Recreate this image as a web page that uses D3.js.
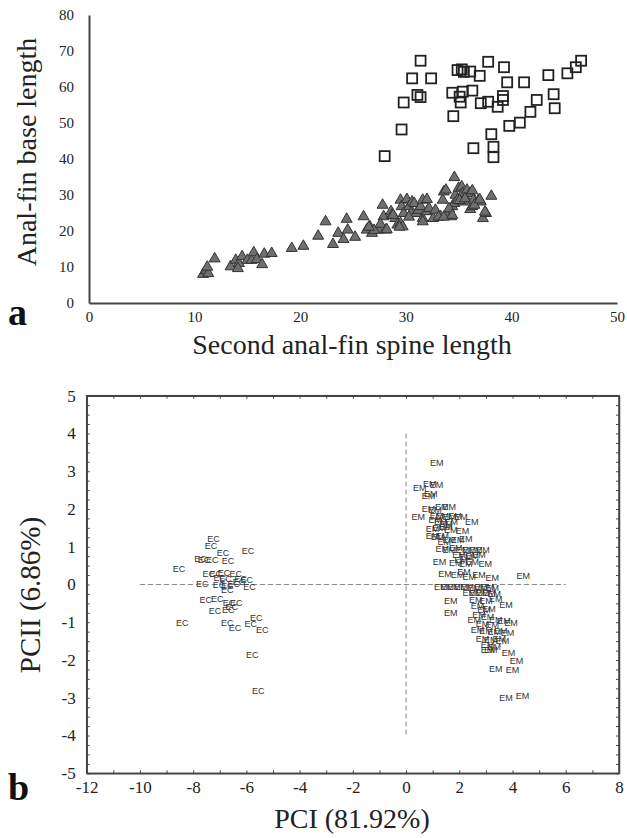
<!DOCTYPE html>
<html><head><meta charset="utf-8">
<script src="https://cdn.jsdelivr.net/npm/d3@7/dist/d3.min.js"></script>
<style>
html,body{margin:0;padding:0;background:#fff;}
svg{display:block;}
</style></head>
<body>
<svg id="chart" width="627" height="838"></svg>
<script>
// ---------- Panel a data ----------
const topXTicks = [0,10,20,30,40,50];
const topYTicks = [0,10,20,30,40,50,60,70,80];
// squares (Second anal-fin spine length, Anal-fin base length)
const squaresX = [28.0,29.6,29.8,30.6,31.4,31.1,31.4,32.4,34.5,34.4,34.9,35.3,35.5,35.1,35.2,35.4,36.1,36.3,37.0,37.1,37.8,37.8,38.1,36.4,38.3,38.3,38.7,39.2,39.2,39.3,39.6,39.8,40.8,41.2,41.8,42.4,43.5,44.0,44.1,45.3,46.1,46.6];
const squaresY = [40.8,48.2,55.7,62.4,67.3,57.8,57.2,62.4,51.9,58.4,64.7,64.9,64.2,57.3,55.7,58.7,64.3,59.0,63.1,55.5,67.0,55.9,46.9,43.0,43.4,40.5,54.5,57.5,56.4,65.5,61.3,49.2,50.1,61.3,53.1,56.4,63.3,58.0,54.1,63.8,65.5,67.3];
// triangles
const trianglesX = [10.8,11.1,11.3,11.2,11.9,13.4,13.9,14.2,14.1,14.5,15.0,15.4,15.6,15.9,16.4,16.6,17.3,19.2,20.3,21.7,22.4,23.1,23.6,24.1,24.4,24.5,25.2,
  26.0,26.3,26.6,26.8,27.4,27.8,27.9,28.1,28.6,28.7,29.0,29.2,29.5,29.7,29.5,29.6,29.8,30.1,30.3,30.5,30.6,30.8,31.0,31.2,31.4,31.6,31.6,32.0,31.6,32.0,32.2,32.6,32.8,33.3,33.5,33.6,33.8,33.9,34.3,34.4,34.6,34.6,34.7,35.0,35.3,35.4,34.9,35.4,35.7,35.8,36.1,36.3,36.1,36.3,36.4,36.9,37.1,37.3,37.6,38.1,
  27.0,27.6,28.2,29.4,30.3,33.1,33.6,34.1,34.4,35.1,35.6,36.5,37.0,37.5,26.5,28.8];
const trianglesY = [8.0,9.0,8.2,10.0,12.3,10.1,11.9,11.0,9.6,12.9,11.9,11.9,14.0,12.1,10.7,13.6,13.8,15.2,15.8,18.6,22.6,16.3,19.4,17.7,23.3,20.3,18.3,
  24.0,20.3,21.2,19.4,20.3,27.2,24.0,20.3,25.4,24.4,23.5,21.7,22.1,21.2,28.6,26.8,24.9,28.8,26.8,24.9,28.1,27.7,24.9,25.8,26.8,23.5,28.6,28.8,22.6,25.4,26.3,23.5,25.8,24.0,28.6,30.9,31.4,24.4,24.0,26.8,27.7,34.9,30.0,31.9,32.3,30.5,28.6,28.1,29.1,31.4,30.5,31.2,26.0,26.8,28.6,28.6,28.1,23.5,24.9,29.7,
  20.2,21.9,20.4,21.1,23.9,23.9,23.9,26.2,24.4,28.5,29.0,27.2,28.7,25.3,21.1,24.4];

// ---------- Panel b data ----------
const pcXTicks = [-12,-11,-10,-9,-8,-7,-6,-5,-4,-3,-2,-1,0,1,2,3,4,5,6,7,8];
const pcYTicks = [-5,-4,-3,-2,-1,0,1,2,3,4,5];
const ecX = [-7.24,-7.33,-6.88,-5.94,-7.72,-7.59,-7.28,-6.69,-8.53,-7.41,-7.15,-6.84,-7.0,-6.78,-6.40,-6.21,-5.99,-7.66,-7.03,-6.72,-6.72,-6.47,-6.28,-5.88,-7.53,-7.09,-6.65,-6.38,-6.55,-7.18,-6.68,-8.41,-6.72,-6.43,-5.84,-5.63,-5.40,-5.78,-5.55];
const ecY = [1.22,1.02,0.85,0.89,0.69,0.66,0.64,0.62,0.42,0.27,0.27,0.31,0.18,0.14,0.27,0.16,0.13,0.03,-0.02,-0.04,-0.13,0.03,0.07,-0.06,-0.40,-0.37,-0.49,-0.49,-0.58,-0.70,-0.66,-1.02,-1.02,-1.14,-1.03,-0.87,-1.21,-1.87,-2.81];
const emX = [1.15,0.51,0.89,1.14,0.84,0.93,0.84,1.09,1.34,1.62,0.46,1.14,1.36,1.62,1.84,2.06,2.47,1.10,1.30,1.50,1.70,0.99,1.24,1.49,1.68,2.12,0.99,1.18,1.36,1.43,1.62,1.93,2.24,1.36,1.62,1.87,2.12,2.37,2.62,2.89,1.99,2.24,2.49,2.74,2.97,1.26,1.87,2.06,2.24,2.49,1.46,1.93,2.18,2.37,2.74,3.24,4.40,1.30,1.55,1.80,2.06,2.30,2.56,2.81,3.06,3.24,2.37,2.62,2.87,3.12,3.31,1.68,2.62,3.00,3.37,3.75,1.68,2.68,2.93,3.12,2.74,3.06,3.37,3.68,3.94,2.56,2.87,3.24,2.68,3.00,3.31,3.56,3.81,2.87,3.18,3.50,3.62,3.06,3.31,3.18,3.06,3.85,4.15,3.37,4.00,3.75,4.37];
const emY = [3.22,2.56,2.67,2.63,2.36,2.39,2.01,1.97,2.05,2.05,1.79,1.83,1.81,1.79,1.81,1.79,1.67,1.70,1.65,1.60,1.65,1.48,1.51,1.52,1.44,1.42,1.30,1.26,1.30,1.13,1.17,1.19,1.22,0.95,0.93,0.98,0.91,0.93,0.91,0.93,0.78,0.73,0.75,0.78,0.54,0.60,0.57,0.64,0.54,0.60,0.29,0.25,0.33,0.20,0.25,0.18,0.22,-0.06,-0.06,-0.06,-0.06,-0.06,-0.08,-0.06,-0.06,-0.10,-0.22,-0.22,-0.22,-0.22,-0.25,-0.43,-0.40,-0.43,-0.37,-0.55,-0.75,-0.57,-0.68,-0.64,-0.81,-0.86,-0.93,-0.96,-1.02,-0.94,-1.03,-1.08,-1.19,-1.23,-1.25,-1.23,-1.28,-1.43,-1.47,-1.43,-1.49,-1.61,-1.65,-1.74,-1.74,-1.81,-2.02,-2.24,-2.25,-3.00,-2.94];

const svg = d3.select("#chart");
const serif = "'Liberation Serif','Times New Roman',serif";
const sans = "'Liberation Sans',Arial,sans-serif";

// ================= Panel a =================
const xA = d3.scaleLinear().domain([0,50]).range([89,617]);
const yA = d3.scaleLinear().domain([0,80]).range([303,15]);
const gA = svg.append("g");

const axA_x = gA.append("g").attr("transform",`translate(0,${yA(0)})`)
  .call(d3.axisBottom(xA).tickValues(topXTicks).tickSize(0).tickPadding(8).tickFormat(d=>String(d)));
const axA_y = gA.append("g").attr("transform",`translate(${xA(0)},0)`)
  .call(d3.axisLeft(yA).tickValues(topYTicks).tickSize(0).tickPadding(15).tickFormat(d=>String(d)));
[axA_x,axA_y].forEach(a=>{
  a.select(".domain").attr("stroke","#444").attr("stroke-width",2);
  a.selectAll("text").attr("font-family",serif).attr("font-size",15).attr("fill","#222");
});

const ms = 10;
gA.append("g").selectAll("path").data(trianglesX.map((x,i)=>[x,trianglesY[i]])).join("path")
  .attr("d", d3.symbol(d3.symbolTriangle, 52)())
  .attr("transform", d=>`translate(${xA(d[0])},${yA(d[1])})`)
  .attr("fill","#6f6f6f").attr("stroke","#333").attr("stroke-width",1);
gA.append("g").selectAll("rect").data(squaresX.map((x,i)=>[x,squaresY[i]])).join("rect")
  .attr("x", d=>xA(d[0])-ms/2).attr("y", d=>yA(d[1])-ms/2)
  .attr("width",ms).attr("height",ms)
  .attr("fill","none").attr("stroke","#222").attr("stroke-width",1.8);

gA.append("text").attr("transform",`translate(36,152) rotate(-90)`)
  .attr("text-anchor","middle").attr("font-family",serif).attr("font-size",28).attr("fill","#222")
  .text("Anal-fin base length");
gA.append("text").attr("x",352).attr("y",354)
  .attr("text-anchor","middle").attr("font-family",serif).attr("font-size",28).attr("fill","#222")
  .text("Second anal-fin spine length");
gA.append("text").attr("x",8).attr("y",325)
  .attr("font-family",serif).attr("font-weight","bold").attr("font-size",38).attr("fill","#111")
  .text("a");

// ================= Panel b =================
const xB = d3.scaleLinear().domain([-12,8]).range([86.7,619]);
const yB = d3.scaleLinear().domain([-5,5]).range([773.3,395.7]);
const gB = svg.append("g");

// frame
gB.append("rect").attr("x",xB(-12)).attr("y",yB(5))
  .attr("width",xB(8)-xB(-12)).attr("height",yB(-5)-yB(5))
  .attr("fill","none").attr("stroke","#444").attr("stroke-width",1.5);

// axes with inward ticks
const axB_x = gB.append("g").attr("transform",`translate(0,${yB(-5)})`)
  .call(d3.axisBottom(xB).tickValues(pcXTicks).tickSizeInner(-3).tickSizeOuter(0).tickPadding(8)
    .tickFormat(d=> d%2===0 ? String(d) : ""));
const axB_top = gB.append("g").attr("transform",`translate(0,${yB(5)})`)
  .call(d3.axisTop(xB).tickValues(pcXTicks).tickSizeInner(-3).tickSizeOuter(0).tickFormat(()=>""));
const yMinor = d3.range(-5,5.001,0.25);
const axB_y = gB.append("g").attr("transform",`translate(${xB(-12)},0)`)
  .call(d3.axisLeft(yB).tickValues(yMinor).tickSizeInner(-3).tickSizeOuter(0).tickPadding(11)
    .tickFormat(d=> Math.abs(d-Math.round(d))<1e-9 ? String(Math.round(d)) : ""));
const axB_right = gB.append("g").attr("transform",`translate(${xB(8)},0)`)
  .call(d3.axisRight(yB).tickValues(yMinor).tickSizeInner(-3).tickSizeOuter(0).tickFormat(()=>""));
[axB_x,axB_top,axB_y,axB_right].forEach(a=>{
  a.select(".domain").attr("stroke","#444").attr("stroke-width",1.5);
  a.selectAll(".tick line").attr("stroke","#444").attr("stroke-width",1);
  a.selectAll("text").attr("font-family",serif).attr("font-size",17).attr("fill","#222");
});

// dashed reference lines
gB.append("line").attr("x1",xB(-10)).attr("x2",xB(6)).attr("y1",yB(0)).attr("y2",yB(0))
  .attr("stroke","#888").attr("stroke-width",1).attr("stroke-dasharray","5,3");
gB.append("line").attr("x1",xB(0)).attr("x2",xB(0)).attr("y1",yB(4)).attr("y2",yB(-4))
  .attr("stroke","#888").attr("stroke-width",1).attr("stroke-dasharray","5,3");

// point labels
gB.append("g").selectAll("text").data(ecX.map((x,i)=>[x,ecY[i]])).join("text")
  .attr("x",d=>xB(d[0])).attr("y",d=>yB(d[1])).attr("dy","0.35em")
  .attr("text-anchor","middle").attr("font-family",sans).attr("font-size",9).attr("fill","#333")
  .text("EC");
gB.append("g").selectAll("text").data(emX.map((x,i)=>[x,emY[i]])).join("text")
  .attr("x",d=>xB(d[0])).attr("y",d=>yB(d[1])).attr("dy","0.35em")
  .attr("text-anchor","middle").attr("font-family",sans).attr("font-size",9).attr("fill","#333")
  .text("EM");

gB.append("text").attr("transform",`translate(40,595) rotate(-90)`)
  .attr("text-anchor","middle").attr("font-family",serif).attr("font-size",29).attr("fill","#222")
  .text("PCII (6.86%)");
gB.append("text").attr("x",352).attr("y",828)
  .attr("text-anchor","middle").attr("font-family",serif).attr("font-size",28).attr("fill","#222")
  .text("PCI (81.92%)");
gB.append("text").attr("x",8).attr("y",800)
  .attr("font-family",serif).attr("font-weight","bold").attr("font-size",38).attr("fill","#111")
  .text("b");
</script>
</body></html>
